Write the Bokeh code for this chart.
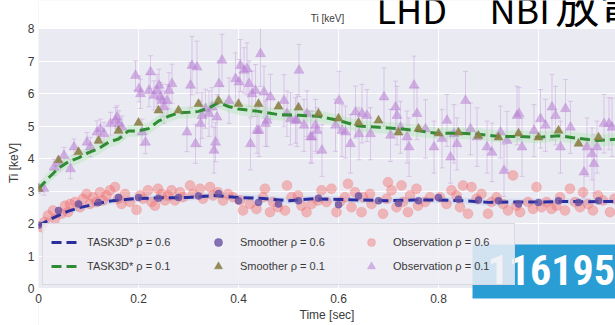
from bokeh.plotting import figure
from bokeh.models import (Legend, LegendItem, Whisker, ColumnDataSource, Label,
                          TeeHead, Range1d, FixedTicker, BoxAnnotation)
from bokeh.embed import file_html
from bokeh.resources import INLINE

# ---------------- data ----------------
task_t06 = [0.0, 0.02, 0.04, 0.06, 0.08, 0.10, 0.12, 0.14, 0.16, 0.20, 0.25, 0.30, 0.35,
            0.40, 0.45, 0.50, 0.55, 0.60, 0.65, 0.70, 0.75, 0.80, 0.85, 0.90, 0.95,
            1.00, 1.05, 1.10, 1.16]
task_v06 = [1.93, 2.10, 2.25, 2.38, 2.48, 2.55, 2.62, 2.68, 2.72, 2.77, 2.79, 2.80, 2.86,
            2.80, 2.77, 2.70, 2.76, 2.74, 2.72, 2.70, 2.72, 2.72, 2.70, 2.65, 2.66,
            2.66, 2.68, 2.67, 2.68]

task_t01 = [0.0, 0.02, 0.04, 0.06, 0.08, 0.10, 0.12, 0.14, 0.16, 0.18, 0.20, 0.22, 0.24,
            0.26, 0.28, 0.30, 0.32, 0.34, 0.36, 0.38, 0.40, 0.44, 0.48, 0.52, 0.56,
            0.60, 0.64, 0.68, 0.72, 0.76, 0.80, 0.84, 0.88, 0.92, 0.96, 1.00, 1.04,
            1.08, 1.12, 1.16]
task_v01 = [3.07, 3.40, 3.70, 3.90, 4.02, 4.18, 4.30, 4.50, 4.60, 4.85, 4.85, 4.92, 5.15,
            5.30, 5.40, 5.42, 5.45, 5.55, 5.72, 5.60, 5.52, 5.45, 5.35, 5.33, 5.30,
            5.17, 5.00, 4.96, 4.92, 4.85, 4.77, 4.78, 4.75, 4.68, 4.68, 4.65, 4.70,
            4.62, 4.55, 4.60]
band01_half = 0.18
band06_half = 0.10

smooth_t06 = [0.0, 0.04, 0.08, 0.12, 0.16, 0.20, 0.24, 0.28, 0.32, 0.36, 0.40, 0.44, 0.48,
              0.52, 0.56, 0.60, 0.64, 0.68, 0.72, 0.76, 0.80, 0.84, 0.88, 0.92, 0.96,
              1.00, 1.04, 1.08, 1.12]
smooth_v06 = [1.95, 2.40, 2.60, 2.65, 2.80, 2.80, 2.78, 2.80, 2.85, 2.92, 2.70, 2.65, 2.60,
              2.70, 2.78, 2.58, 2.85, 2.70, 2.62, 2.70, 2.80, 2.75, 2.72, 2.70, 2.60,
              2.65, 2.70, 2.65, 2.70]

smooth_t01 = [0.0, 0.04, 0.08, 0.12, 0.16, 0.20, 0.24, 0.28, 0.32, 0.36, 0.40, 0.44, 0.48,
              0.52, 0.56, 0.60, 0.64, 0.68, 0.72, 0.76, 0.80, 0.84, 0.88, 0.92, 0.96,
              1.00, 1.04, 1.08, 1.12]
smooth_v01 = [3.07, 3.95, 4.20, 4.55, 4.86, 5.10, 5.48, 5.48, 5.68, 5.78, 5.68, 5.68, 5.60,
              5.57, 5.38, 5.23, 5.10, 5.17, 4.80, 4.92, 4.77, 4.80, 4.70, 4.65, 4.77,
              4.65, 4.86, 4.46, 4.65]

obs_t06 = [0.006, 0.012, 0.019, 0.029, 0.033, 0.046, 0.053, 0.059, 0.063, 0.073, 0.083,
           0.089, 0.096, 0.103, 0.109, 0.116, 0.123, 0.129, 0.136, 0.143, 0.153, 0.159,
           0.166, 0.173, 0.183, 0.196, 0.203, 0.209, 0.219, 0.226, 0.233, 0.239, 0.246,
           0.253, 0.259, 0.266, 0.273, 0.283, 0.289, 0.303, 0.309, 0.323, 0.329, 0.343,
           0.349, 0.359, 0.369, 0.379, 0.389, 0.403, 0.409, 0.423, 0.436, 0.449, 0.453,
           0.463, 0.469, 0.479, 0.493, 0.497, 0.506, 0.519, 0.526, 0.536, 0.546, 0.559,
           0.566, 0.576, 0.586, 0.596, 0.603, 0.613, 0.619, 0.626, 0.633, 0.646, 0.649,
           0.663, 0.666, 0.689, 0.696, 0.699, 0.706, 0.716, 0.726, 0.729, 0.739, 0.743,
           0.756, 0.759, 0.773, 0.783, 0.803, 0.816, 0.826, 0.836, 0.843, 0.849, 0.859,
           0.866, 0.876, 0.886, 0.899, 0.906, 0.916, 0.929, 0.939, 0.949, 0.956, 0.963,
           0.979, 0.989, 0.996, 1.006, 1.016, 1.026, 1.036, 1.043, 1.053, 1.063, 1.073,
           1.083, 1.089, 1.099, 1.109, 1.119, 1.129, 1.143, 1.152]
obs_v06 = [1.89, 2.05, 2.25, 2.40, 2.14, 2.30, 2.55, 2.35, 2.60, 2.66, 2.50,
           2.76, 2.91, 2.60, 2.81, 2.66, 2.96, 2.71, 2.86, 3.02, 3.12, 2.76,
           2.60, 2.91, 2.66, 2.42, 2.86, 2.76, 3.02, 2.66, 2.55, 3.07, 2.91,
           2.71, 2.86, 3.02, 2.71, 2.96, 2.81, 3.17, 2.91, 3.07, 2.76, 3.12,
           2.86, 2.96, 2.71, 2.91, 2.81, 2.71, 2.40, 2.60, 2.45, 2.81, 3.07,
           2.35, 2.66, 2.50, 2.40, 3.17, 2.81, 2.86, 2.55, 2.35, 2.60, 2.71,
           3.02, 2.66, 3.07, 2.35, 2.66, 2.81, 3.22, 2.50, 2.96, 2.35, 2.81,
           2.91, 2.60, 2.30, 2.76, 3.27, 3.02, 2.50, 3.17, 2.66, 2.35, 2.86,
           3.07, 2.55, 2.66, 2.81, 2.81, 2.60, 3.02, 2.86, 2.50, 3.17, 2.30,
           3.12, 2.76, 2.91, 2.30, 2.66, 2.81, 2.60, 2.40, 3.48, 2.55, 2.35,
           2.66, 2.45, 3.12, 2.50, 2.66, 2.45, 2.55, 2.81, 2.40, 3.07, 2.66,
           2.50, 2.96, 2.60, 2.40, 2.86, 2.71, 2.35, 2.76]

obs_t01 = [0.000, 0.011, 0.031, 0.041, 0.051, 0.064, 0.071, 0.097, 0.104, 0.117, 0.124,
           0.131, 0.144, 0.154, 0.157, 0.161, 0.167, 0.194, 0.201, 0.204, 0.207, 0.214,
           0.221, 0.224, 0.231, 0.237, 0.241, 0.244, 0.247, 0.251, 0.257, 0.261, 0.267,
           0.297, 0.304, 0.307, 0.314, 0.317, 0.324, 0.327, 0.334, 0.341, 0.347, 0.351,
           0.354, 0.357, 0.361, 0.367, 0.381, 0.394, 0.401, 0.404, 0.411, 0.417, 0.421,
           0.424, 0.427, 0.434, 0.437, 0.441, 0.444, 0.451, 0.454, 0.457, 0.464, 0.491,
           0.497, 0.504, 0.514, 0.517, 0.521, 0.531, 0.537, 0.544, 0.547, 0.554, 0.557,
           0.567, 0.594, 0.601, 0.607, 0.614, 0.624, 0.634, 0.641, 0.647, 0.657, 0.664,
           0.691, 0.704, 0.714, 0.717, 0.724, 0.737, 0.741, 0.751, 0.757, 0.774, 0.791,
           0.807, 0.817, 0.824, 0.831, 0.837, 0.854, 0.864, 0.877, 0.897, 0.907, 0.924,
           0.931, 0.937, 0.957, 0.961, 0.967, 0.991, 1.004, 1.014, 1.027, 1.034, 1.044,
           1.054, 1.064, 1.091, 1.097, 1.107, 1.111, 1.117, 1.131, 1.141, 1.147]
obs_v01 = [3.07, 3.07, 3.73, 3.84, 4.09, 3.68, 4.35, 4.50, 4.35, 4.81, 4.91,
           4.76, 5.07, 5.17, 5.27, 5.07, 4.96, 6.55, 6.14, 5.99, 4.81, 4.50,
           6.09, 6.66, 5.94, 6.09, 6.25, 5.89, 5.78, 5.58, 5.78, 6.09, 6.30,
           4.81, 6.25, 6.86, 4.45, 6.81, 5.07, 5.32, 5.53, 5.38, 5.58, 4.25,
           4.50, 5.27, 6.30, 7.02, 5.78, 6.45, 6.35, 6.86, 6.71, 6.76, 6.30,
           4.45, 5.99, 6.09, 4.86, 4.86, 7.22, 6.04, 5.07, 5.17, 5.89, 5.78,
           5.38, 5.22, 5.17, 5.17, 6.71, 5.02, 5.38, 4.66, 4.66, 5.02, 4.86,
           4.25, 5.02, 5.78, 4.86, 4.81, 4.45, 5.43, 4.76, 5.38, 5.32, 4.76,
           5.89, 4.71, 5.58, 5.32, 4.96, 4.66, 4.35, 6.25, 5.38, 4.91, 4.35,
           4.61, 5.17, 4.04, 4.76, 4.45, 5.78, 4.91, 4.66, 4.35, 4.19, 4.81,
           3.63, 4.55, 5.32, 5.38, 4.35, 4.86, 5.22, 5.02, 5.58, 5.32, 4.35,
           5.53, 4.96, 3.58, 4.35, 4.14, 3.84, 4.35, 5.07, 5.07, 4.96]
obs_e01 = [0.15, 0.20, 0.25, 0.20, 0.25, 0.30, 0.25, 0.30, 0.30, 0.35, 0.30,
           0.35, 0.35, 0.40, 0.35, 0.40, 0.35, 0.45, 0.40, 0.45, 0.40, 0.35,
           0.50, 0.50, 0.45, 0.50, 0.50, 0.45, 0.50, 0.50, 0.50, 0.55, 0.60,
           0.60, 0.70, 0.90, 0.60, 0.80, 0.70, 0.70, 0.60, 0.70, 0.60, 0.70,
           0.60, 0.70, 0.70, 0.80, 0.70, 0.80, 0.70, 0.80, 0.70, 0.80, 0.70,
           0.80, 0.70, 0.80, 0.70, 0.80, 1.00, 0.80, 0.70, 0.80, 0.70, 0.80,
           0.70, 0.80, 0.70, 0.80, 0.80, 0.80, 0.70, 0.80, 0.80, 0.80, 0.70,
           0.80, 0.80, 0.90, 0.80, 0.80, 0.90, 0.80, 0.80, 0.90, 0.80, 0.80,
           0.90, 0.80, 0.80, 0.90, 0.80, 0.80, 0.90, 0.90, 0.80, 0.90, 0.80,
           0.90, 0.80, 0.80, 0.90, 0.80, 0.90, 0.80, 0.90, 0.80, 0.90, 0.80,
           0.80, 0.90, 0.90, 0.80, 0.90, 0.80, 0.90, 0.80, 1.00, 0.90, 0.80,
           0.90, 0.80, 0.80, 0.90, 0.80, 0.90, 0.80, 0.90, 0.80, 0.90]

x_ticks = [0.0, 0.2, 0.4, 0.6, 0.8]           # the 1.0 label sits under the shot-number badge
x_grid_ticks = [0.0, 0.2, 0.4, 0.6, 0.8, 1.0]
y_ticks = [0, 1, 2, 3, 4, 5, 6, 7, 8]
y_lo, y_hi = 0, 8

legend_labels = ["TASK3D* ρ = 0.6", "TASK3D* ρ = 0.1",
                 "Smoother ρ = 0.6", "Smoother ρ = 0.1",
                 "Observation ρ = 0.6", "Observation ρ = 0.1"]
top_small = "Ti [keV]"
top_big_1 = "LHD"
top_big_2 = "NBI"
top_big_3 = "放電"
shot_no = "116195"

# ---------------- layout constants (pixels) ----------------
W, H = 615, 325
FL = 38             # frame left
PLOT_TOP, PLOT_BOTTOM = 28, 288   # pixel rows of y = 8 and y = 0
PX_X = 500.0        # px per second
PX_Y = (PLOT_BOTTOM - PLOT_TOP) / (y_hi - y_lo)
FONT = "Liberation Sans"
CJK = "Noto Sans CJK JP"
TXT = "#3a3a3a"


def dx(px):
    return (px - FL) / PX_X


def dy(py):
    return (PLOT_BOTTOM - py) / PX_Y


p = figure(width=W, height=H,
           x_range=Range1d(dx(FL), dx(W)), y_range=Range1d(dy(H), dy(0)),
           output_backend="svg", toolbar_location=None,
           min_border_left=FL, min_border_right=0, min_border_top=0, min_border_bottom=0)
p.background_fill_color = "#EAEAF2"
p.border_fill_color = "white"
p.outline_line_color = None
p.grid.grid_line_color = "white"
p.grid.grid_line_width = 1

# white slide margins outside the axes box (above y=8 and below y=0)
p.add_layout(BoxAnnotation(left=dx(FL), right=dx(W), bottom=y_lo - 5, top=y_lo,
                           fill_color="white", fill_alpha=1.0, line_color=None,
                           level="underlay"))
p.add_layout(BoxAnnotation(left=dx(FL), right=dx(W), bottom=y_hi, top=y_hi + 5,
                           fill_color="white", fill_alpha=1.0, line_color=None,
                           level="annotation"))

p.xaxis.ticker = FixedTicker(ticks=x_ticks)
p.xgrid.ticker = FixedTicker(ticks=x_grid_ticks)
p.yaxis.ticker = FixedTicker(ticks=y_ticks)
p.ygrid.ticker = FixedTicker(ticks=y_ticks)
for ax in (p.xaxis[0], p.yaxis[0]):
    ax.axis_line_color = None
    ax.major_tick_line_color = None
    ax.minor_tick_line_color = None
    ax.major_tick_in = 0
    ax.major_tick_out = 0
    ax.minor_tick_in = 0
    ax.minor_tick_out = 0
    ax.major_label_text_font = FONT
    ax.major_label_text_font_size = "12px"
    ax.major_label_text_color = TXT
    ax.axis_label_text_font = FONT
    ax.axis_label_text_font_size = "12px"
    ax.axis_label_text_font_style = "normal"
    ax.axis_label_text_color = TXT
p.xaxis.axis_label = "Time [sec]"
p.yaxis.axis_label = "Ti [keV]"
p.yaxis.major_label_standoff = 4
p.yaxis.axis_label_standoff = 4
# x axis labels sit in the white margin below y = 0
p.xaxis.major_label_standoff = -(H - PLOT_BOTTOM) + 5
p.xaxis.axis_label_standoff = 2

# bands
p.varea(x=task_t01, y1=[v - band01_half for v in task_v01], y2=[v + band01_half for v in task_v01],
        fill_color="#9BE39B", fill_alpha=0.3)
p.varea(x=task_t06, y1=[v - band06_half for v in task_v06], y2=[v + band06_half for v in task_v06],
        fill_color="#A9C8F0", fill_alpha=0.3)

# error bars for observation rho=0.1
err_src = ColumnDataSource(dict(t=obs_t01,
                                lo=[v - e for v, e in zip(obs_v01, obs_e01)],
                                up=[v + e for v, e in zip(obs_v01, obs_e01)]))
wcol = "#C9A2DC"
wh = Whisker(source=err_src, base="t", lower="lo", upper="up", dimension="height",
             line_color=wcol, line_alpha=0.5, line_width=1, level="underlay",
             upper_head=TeeHead(size=5, line_color=wcol, line_alpha=0.5, line_width=1),
             lower_head=TeeHead(size=5, line_color=wcol, line_alpha=0.5, line_width=1))
p.add_layout(wh)

r_obs06 = p.scatter(obs_t06, obs_v06, marker="circle", size=10, fill_color="#F26B6B",
                    fill_alpha=0.42, line_color="#F26B6B", line_alpha=0.2)
r_obs01 = p.scatter(obs_t01, obs_v01, marker="triangle", size=10, fill_color="#B87FD4",
                    fill_alpha=0.55, line_color="#B87FD4", line_alpha=0.3)

r_task01 = p.line(task_t01, task_v01, line_color="#2F8C35", line_width=3, line_dash="10 5")
r_task06 = p.line(task_t06, task_v06, line_color="#2B2E9E", line_width=3, line_dash="10 5")

r_sm06 = p.scatter(smooth_t06, smooth_v06, marker="circle", size=7, fill_color="#6A51A3",
                   fill_alpha=0.8, line_color="#6A51A3", line_alpha=0.5)
r_sm01 = p.scatter(smooth_t01, smooth_v01, marker="triangle", size=9, fill_color="#8A7F45",
                   fill_alpha=0.9, line_color="#8A7F45", line_alpha=0.5)

legend = Legend(items=[
    LegendItem(label=legend_labels[0], renderers=[r_task06]),
    LegendItem(label=legend_labels[1], renderers=[r_task01]),
    LegendItem(label=legend_labels[2], renderers=[r_sm06]),
    LegendItem(label=legend_labels[3], renderers=[r_sm01]),
    LegendItem(label=legend_labels[4], renderers=[r_obs06]),
    LegendItem(label=legend_labels[5], renderers=[r_obs01]),
], location=(4, H - 285), ncols=3, orientation="vertical")
legend.label_text_font = FONT
legend.label_text_font_size = "11px"
legend.label_text_color = TXT
legend.glyph_width = 28
legend.glyph_height = 20
legend.label_standoff = 8
legend.label_width = 113
legend.spacing = 4
legend.padding = 8
legend.margin = 0
legend.background_fill_color = "#EEEEF4"
legend.background_fill_alpha = 0.85
legend.border_line_color = "#D6D6DE"
legend.border_line_alpha = 0.9
p.add_layout(legend)

# slide overlays
p.add_layout(Label(x=dx(327), y=dy(18), text=top_small,
                   text_align="center", text_baseline="middle", text_font=FONT,
                   text_font_size="10px", text_color=TXT))
p.add_layout(Label(x=dx(376), y=dy(7), text=top_big_1,
                   text_align="left", text_baseline="middle",
                   text_font=CJK, text_font_size="36px", text_color="black"))
p.add_layout(Label(x=dx(489), y=dy(7), text=top_big_2,
                   text_align="left", text_baseline="middle",
                   text_font=CJK, text_font_size="36px", text_color="black"))
p.add_layout(Label(x=dx(555), y=dy(3), text=top_big_3,
                   text_align="left", text_baseline="middle",
                   text_font=CJK, text_font_size="44px", text_color="black"))
p.add_layout(Label(x=dx(472), y=dy(298), text=shot_no,
                   text_align="left", text_baseline="bottom",
                   text_font="Roboto Condensed, Liberation Sans Narrow, Roboto",
                   text_font_style="bold", text_font_size="42px", text_color="white",
                   background_fill_color="#2B9DD5", background_fill_alpha=1.0,
                   padding=dict(left=15, right=40, top=10, bottom=14)))

open("out.html", "w").write(file_html(p, INLINE))
